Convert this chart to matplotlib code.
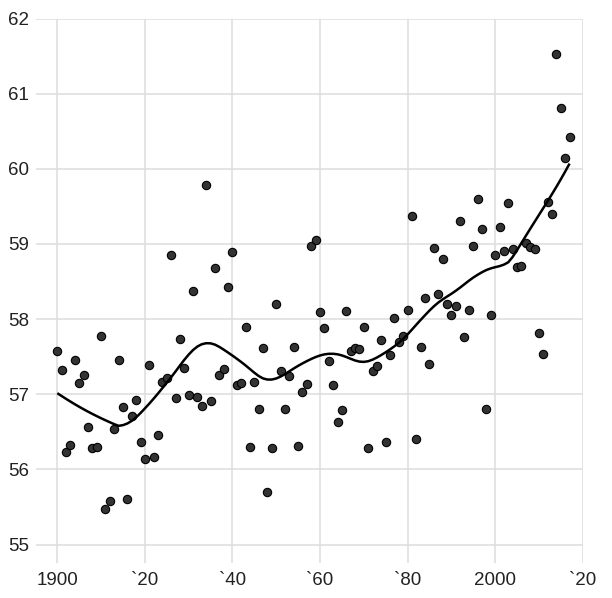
import numpy as np
import matplotlib
matplotlib.use("Agg")
import matplotlib.pyplot as plt

years = list(range(1900, 2018))
temps = [
    57.57, 57.33, 56.23, 56.33, 57.46, 57.15, 57.26, 56.57, 56.29, 56.30,  # 1900-1909
    57.77, 55.48, 55.58, 56.54, 57.46, 56.83, 55.61, 56.71, 56.92, 56.37,  # 1910-1919
    56.14, 57.39, 56.16, 56.46, 57.16, 57.22, 58.86, 56.95, 57.73, 57.35,  # 1920-1929
    56.99, 58.38, 56.97, 56.84, 59.79, 56.91, 58.68, 57.26, 57.34, 58.43,  # 1930-1939
    58.89, 57.13, 57.15, 57.90, 56.30, 57.16, 56.81, 57.62, 55.70, 56.29,  # 1940-1949
    58.20, 57.31, 56.81, 57.25, 57.63, 56.31, 57.03, 57.14, 58.97, 59.05,  # 1950-1959
    58.09, 57.88, 57.45, 57.12, 56.63, 56.79, 58.11, 57.58, 57.61, 57.60,  # 1960-1969
    57.89, 56.29, 57.31, 57.38, 57.72, 56.36, 57.52, 58.02, 57.70, 57.77,  # 1970-1979
    58.12, 59.37, 56.41, 57.63, 58.28, 57.41, 58.95, 58.34, 58.80, 58.20,  # 1980-1989
    58.06, 58.17, 59.30, 57.76, 58.12, 58.98, 59.60, 59.20, 56.81, 58.05,  # 1990-1999
    58.85, 59.23, 58.91, 59.54, 58.93, 58.69, 58.71, 59.01, 58.96, 58.93,  # 2000-2009
    57.81, 57.53, 59.56, 59.40, 61.53, 60.81, 60.15, 60.43,                # 2010-2017
]
x_ticks = [1900, 1920, 1940, 1960, 1980, 2000, 2020]
x_tick_labels = ["1900", "`20", "`40", "`60", "`80", "2000", "`20"]
y_ticks = [55, 56, 57, 58, 59, 60, 61, 62]


def loess(xs, ys, bandwidth=0.3, maxiters=2, eps=1e-12):
    """Local linear regression with tricube weights (Vega-style loess)."""
    xs = np.asarray(xs, float)
    ys = np.asarray(ys, float)
    ux, uy = xs.mean(), ys.mean()
    xv, yv = xs - ux, ys - uy
    n = len(xv)
    bw = max(2, int(bandwidth * n))
    yhat = np.zeros(n)
    resid = np.zeros(n)
    rw = np.ones(n)

    def tricube(v):
        v = 1 - v ** 3
        return v * v * v

    for it in range(maxiters + 1):
        interval = [0, bw - 1]
        for i in range(n):
            dx = xv[i]
            i0, i1 = interval
            edge = i0 if (dx - xv[i0]) > (xv[i1] - dx) else i1
            d = abs(xv[edge] - dx) or 1.0
            denom = 1.0 / d
            W = X = Y = XY = X2 = 0.0
            for k in range(i0, i1 + 1):
                w = tricube(abs(dx - xv[k]) * denom) * rw[k]
                W += w
                X += xv[k] * w
                Y += yv[k] * w
                XY += yv[k] * xv[k] * w
                X2 += xv[k] * xv[k] * w
            mX, mY, mXY, mX2 = X / W, Y / W, XY / W, X2 / W
            delta = mX2 - mX * mX
            slope = 0.0 if abs(delta) < 1e-24 else (mXY - mX * mY) / delta
            inter = mY - slope * mX
            yhat[i] = inter + slope * dx
            resid[i] = abs(yv[i] - yhat[i])
            j = i + 1
            if j < n:
                val = xv[j]
                left, right = interval[0], interval[1] + 1
                while j > left and right < n and (xv[right] - val) <= (val - xv[left]):
                    left += 1
                    interval[0] = left
                    interval[1] = right
                    right += 1
        if it == maxiters:
            break
        med = np.median(resid)
        if abs(med) < eps:
            break
        arg = resid / (6 * med)
        rw = np.where(arg >= 1, eps, (1 - arg ** 2) ** 2)
    return xv + ux, yhat + uy


lx, ly = loess(years, temps, 0.25, 0)

plt.rcParams['font.family'] = ['Liberation Sans', 'DejaVu Sans']
fig = plt.figure(figsize=(6.12, 5.98), dpi=100)
ax = fig.add_axes([36 / 612, 1 - 563.3 / 598, (582.7 - 36) / 612, (563.3 - 18.5) / 598])

ax.scatter(years, temps, s=36, facecolor="#333333", edgecolor="black",
           linewidths=0.8, zorder=3)
ax.plot(lx, ly, color="black", linewidth=1.8, zorder=4, solid_capstyle="butt")

ax.set_xlim(1895.13, 2020)
ax.set_ylim(54.752, 62)
ax.set_xticks(x_ticks)
ax.set_xticklabels(x_tick_labels)
ax.set_yticks(y_ticks)
ax.set_yticklabels([str(v) for v in y_ticks])
ax.grid(True, color="#dddddd", linewidth=1.1, zorder=0)
ax.set_axisbelow(True)
for s in ax.spines.values():
    s.set_visible(False)
ax.tick_params(length=0, labelsize=13.5, colors="#222222", pad=5)
ax.tick_params(axis="x", pad=6)

fig.savefig("out.png", dpi=100)
